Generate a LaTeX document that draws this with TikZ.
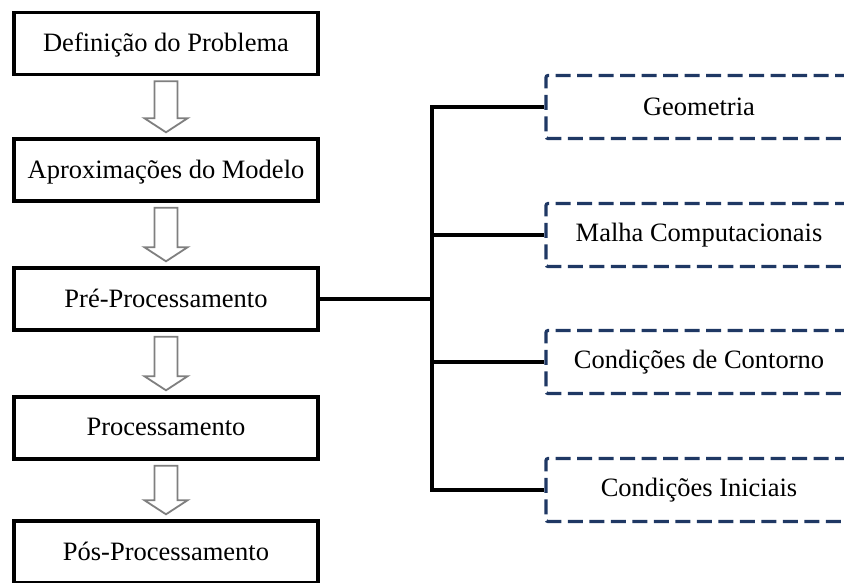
\documentclass[tikz,border=0pt]{standalone}
\usepackage{fontspec}
\setmainfont{Liberation Serif}
\usetikzlibrary{calc}
\definecolor{dashblue}{HTML}{1F3864}
\definecolor{arrgray}{HTML}{7F7F7F}
\tikzset{
  mainbox/.style={draw=black, line width=3.4pt, minimum width=304pt, minimum height=62pt, inner sep=0pt, text depth=2pt, font=\fontsize{26.5}{30}\selectfont},
  subbox/.style={draw=dashblue, line width=3.2pt, dash pattern=on 15pt off 6.5pt, rounded corners=2pt, minimum width=306pt, minimum height=63pt, inner sep=0pt, font=\fontsize{26.5}{30}\selectfont},
  conn/.style={draw=black, line width=3.2pt},
  blockarr/.style={draw=arrgray, line width=1.8pt, fill=white, line join=miter},
}
\newcommand{\hollowarrow}[2]{%
  \draw[blockarr] ($(#1.south)+(-11.5,5)$) -- ($(#2.north)+(-11.5,-19)$) -- ($(#2.north)+(-21.5,-19)$) -- ($(#2.north)+(0,-5)$) -- ($(#2.north)+(21.5,-19)$) -- ($(#2.north)+(11.5,-19)$) -- ($(#1.south)+(11.5,5)$) -- cycle;}
\begin{document}
\begin{tikzpicture}[x=1pt,y=-1pt]
\useasboundingbox (0,0) rectangle (844,582);
% left column
\node[mainbox] (b1) at (166,43.5) {Definição do Problema};
\node[mainbox] (b2) at (166,170) {Aproximações do Modelo};
\node[mainbox] (b3) at (166,299) {Pré-Processamento};
\node[mainbox] (b4) at (166,428) {Processamento};
\node[mainbox] (b5) at (166,552) {Pós-Processamento};
\hollowarrow{b1}{b2}
\hollowarrow{b2}{b3}
\hollowarrow{b3}{b4}
\hollowarrow{b4}{b5}
% right column
\node[subbox] (r1) at (699,107) {Geometria};
\node[subbox] (r2) at (699,235) {Malha Computacionais};
\node[subbox] (r3) at (699,362) {Condições de Contorno};
\node[subbox] (r4) at (699,490) {Condições Iniciais};
% connectors
\coordinate (jt) at (432,299);
\draw[conn] (b3.east) -- (jt);
\draw[conn] (r1.west) -| (jt) |- (r4.west);
\draw[conn] (r2.west) -- (r2.west -| jt);
\draw[conn] (r3.west) -- (r3.west -| jt);
\end{tikzpicture}
\end{document}
